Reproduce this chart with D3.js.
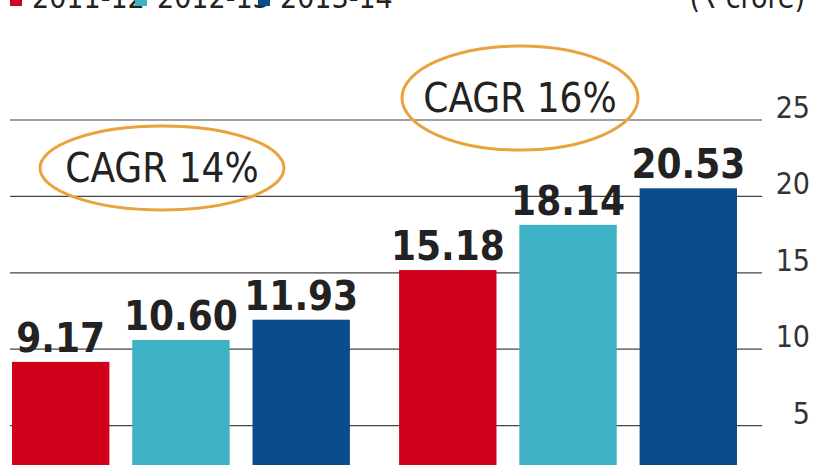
<!DOCTYPE html>
<html>
<head>
<meta charset="UTF-8" />
<script src="https://d3js.org/d3.v7.min.js"></script>
<style>
  body { margin: 0; background: #fff; }
  svg { display: block; font-family: "Liberation Sans Narrow", "DejaVu Sans Condensed", "Roboto", sans-serif; }
</style>
</head>
<body>
<svg id="chart" width="826" height="465"></svg>
<script>
const groups = ["A", "B"];
const years = ["2011-12", "2012-13", "2013-14"];
const values = [[9.17, 10.60, 11.93], [15.18, 18.14, 20.53]];
const cagr = ["CAGR 14%", "CAGR 16%"];
const ticks = [5, 10, 15, 20, 25];
const colors = ["#d0021b", "#3fb1c4", "#0b4d8c"];

const svg = d3.select("#chart");
const y = d3.scaleLinear().domain([0, 25]).range([502, 120]);
const gx = d3.scaleBand().domain(groups).range([12, 737]).paddingInner(0.127);
const bx = d3.scaleBand().domain(years).range([0, gx.bandwidth()]).paddingInner(0.19);

// gridlines + right-side ticks
svg.append("g").selectAll("line").data(ticks).join("line")
  .attr("x1", 10).attr("x2", 762)
  .attr("y1", d => y(d)).attr("y2", d => y(d))
  .attr("stroke", "#444").attr("stroke-width", 1.2);
svg.append("g").selectAll("text").data(ticks).join("text")
  .attr("x", 810).attr("y", d => y(d) - 2)
  .attr("text-anchor", "end").attr("font-size", 30).attr("fill", "#333")
  .text(d => d);

// bars
groups.forEach((g, gi) => {
  const gg = svg.append("g").attr("transform", `translate(${gx(g)},0)`);
  gg.selectAll("rect").data(values[gi]).join("rect")
    .attr("x", (d, i) => bx(years[i])).attr("width", bx.bandwidth())
    .attr("y", d => y(d)).attr("height", d => y(0) - y(d))
    .attr("fill", (d, i) => colors[i]);
  gg.selectAll("text").data(values[gi]).join("text")
    .attr("x", (d, i) => bx(years[i]) + bx.bandwidth() / 2)
    .attr("y", d => y(d) - 10)
    .attr("text-anchor", "middle").attr("font-size", 40).attr("font-weight", "bold")
    .attr("fill", "#222")
    .text(d => d.toFixed(2));
});

// CAGR ellipses
const ell = [{ cx: 162, cy: 168, rx: 122, ry: 42 }, { cx: 520, cy: 98, rx: 118, ry: 52 }];
ell.forEach((e, i) => {
  svg.append("ellipse").attr("cx", e.cx).attr("cy", e.cy).attr("rx", e.rx).attr("ry", e.ry)
    .attr("fill", "none").attr("stroke", "#e8a33a").attr("stroke-width", 3);
  svg.append("text").attr("x", e.cx).attr("y", e.cy + 14)
    .attr("text-anchor", "middle").attr("font-size", 40).attr("fill", "#222")
    .text(cagr[i]);
});

// legend (cropped at top, as in the source)
const lx = [10, 135, 258];
years.forEach((yr, i) => {
  svg.append("rect").attr("x", lx[i]).attr("y", -8).attr("width", 12).attr("height", 14).attr("fill", colors[i]);
  svg.append("text").attr("x", lx[i] + 22).attr("y", 8).attr("font-size", 30).attr("fill", "#222").text(yr);
});
svg.append("text").attr("x", 805).attr("y", 8).attr("text-anchor", "end")
  .attr("font-size", 30).attr("fill", "#222").text("(₹ crore)");
</script>
</body>
</html>
